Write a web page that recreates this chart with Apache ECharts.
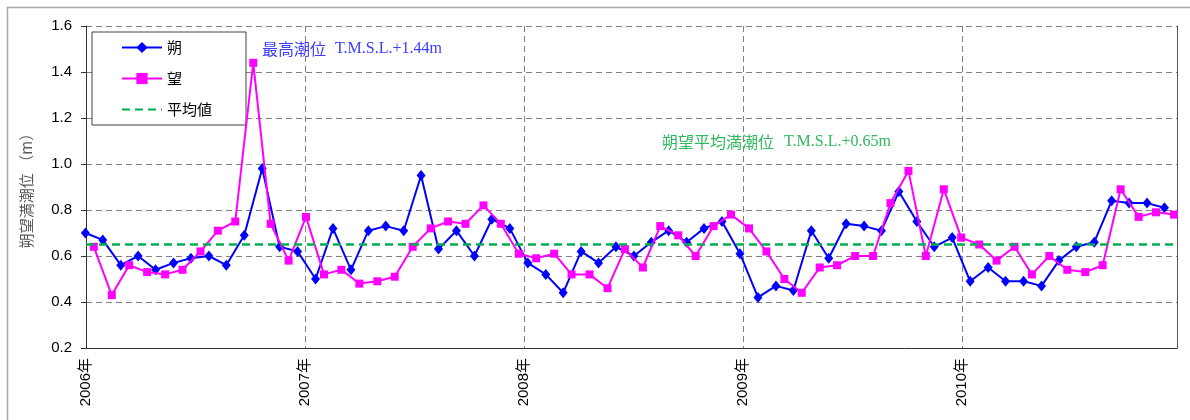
<!DOCTYPE html>
<html>
<head>
<meta charset="utf-8">
<script src="https://cdn.jsdelivr.net/npm/echarts@6/dist/echarts.min.js"></script>
<style>
html,body{margin:0;padding:0;background:#fff;}
#chart{width:1190px;height:420px;}
</style>
</head>
<body>
<div id="chart"></div>
<script>
// ---- data ----
const SAKU_DATES = ['2005-12-31','2006-01-29','2006-02-28','2006-03-29','2006-04-27','2006-05-27','2006-06-25','2006-07-25','2006-08-23','2006-09-22','2006-10-22','2006-11-20','2006-12-20',
'2007-01-19','2007-02-17','2007-03-19','2007-04-17','2007-05-16','2007-06-15','2007-07-14','2007-08-12','2007-09-11','2007-10-11','2007-11-09','2007-12-09',
'2008-01-08','2008-02-07','2008-03-07','2008-04-06','2008-05-05','2008-06-03','2008-07-03','2008-08-01','2008-08-30','2008-09-29','2008-10-28','2008-11-27','2008-12-27',
'2009-01-26','2009-02-25','2009-03-26','2009-04-25','2009-05-24','2009-06-22','2009-07-22','2009-08-20','2009-09-18','2009-10-18','2009-11-16','2009-12-16',
'2010-01-15','2010-02-14','2010-03-15','2010-04-14','2010-05-14','2010-06-12','2010-07-11','2010-08-10','2010-09-08','2010-10-07','2010-11-06','2010-12-05'];
const SAKU_VALUES = [0.70,0.67,0.56,0.60,0.54,0.57,0.59,0.60,0.56,0.69,0.98,0.64,0.62,
0.50,0.72,0.54,0.71,0.73,0.71,0.95,0.63,0.71,0.60,0.76,0.72,
0.57,0.52,0.44,0.62,0.57,0.64,0.60,0.66,0.71,0.66,0.72,0.75,0.61,
0.42,0.47,0.45,0.71,0.59,0.74,0.73,0.71,0.88,0.75,0.64,0.68,
0.49,0.55,0.49,0.49,0.47,0.58,0.64,0.66,0.84,0.83,0.83,0.81];

const BOU_DATES = ['2006-01-14','2006-02-13','2006-03-14','2006-04-13','2006-05-13','2006-06-11','2006-07-11','2006-08-09','2006-09-07','2006-10-07','2006-11-05','2006-12-05',
'2007-01-03','2007-02-02','2007-03-03','2007-04-02','2007-05-02','2007-05-31','2007-06-30','2007-07-30','2007-08-28','2007-09-26','2007-10-26','2007-11-24','2007-12-24',
'2008-01-22','2008-02-21','2008-03-21','2008-04-20','2008-05-20','2008-06-18','2008-07-18','2008-08-16','2008-09-15','2008-10-14','2008-11-13','2008-12-12',
'2009-01-11','2009-02-09','2009-03-11','2009-04-09','2009-05-09','2009-06-07','2009-07-07','2009-08-06','2009-09-04','2009-10-04','2009-11-02','2009-12-02','2009-12-31',
'2010-01-30','2010-02-28','2010-03-30','2010-04-28','2010-05-27','2010-06-26','2010-07-26','2010-08-24','2010-09-23','2010-10-23','2010-11-21','2010-12-21'];
const BOU_VALUES = [0.64,0.43,0.56,0.53,0.52,0.54,0.62,0.71,0.75,1.44,0.74,0.58,
0.77,0.52,0.54,0.48,0.49,0.51,0.64,0.72,0.75,0.74,0.82,0.74,0.61,
0.59,0.61,0.52,0.52,0.46,0.63,0.55,0.73,0.69,0.60,0.73,0.78,
0.72,0.62,0.50,0.44,0.55,0.56,0.60,0.60,0.83,0.97,0.60,0.89,0.68,
0.65,0.58,0.64,0.52,0.60,0.54,0.53,0.56,0.89,0.77,0.79,0.78];

const MEAN_VALUE = 0.65;
const X_START = '2006-01-01';
const X_END = '2010-12-26';
const YEAR_LABEL_START = 2006;
const Y_TICKS = [0.2,0.4,0.6,0.8,1.0,1.2,1.4,1.6];

const SERIES_NAMES = ['朔','望','平均値'];
const Y_NAME = '朔望満潮位 （m）';
const NOTE_MAX = ['最高潮位','T.M.S.L.+1.44m'];
const NOTE_MEAN = ['朔望平均満潮位','T.M.S.L.+0.65m'];

// ---- helpers ----
const DAY = 86400000;
const t0 = Date.parse(X_START);
const toDay = s => (Date.parse(s) - t0) / DAY;
const YEAR = 365.25;
const xMax = toDay(X_END);

const sakuData = SAKU_DATES.map((d,i)=>[toDay(d), SAKU_VALUES[i]]);
const bouData = BOU_DATES.map((d,i)=>[toDay(d), BOU_VALUES[i]]);
const meanData = [[0, MEAN_VALUE],[xMax, MEAN_VALUE]];

const chart = echarts.init(document.getElementById('chart'), null, {renderer:'canvas'});
const gridDash = {color:'#808080', width:1, type:[6,4]};
const FONT = 'Liberation Sans, Noto Sans CJK JP, sans-serif';
const CJK = 'Noto Sans CJK JP, sans-serif';
const SERIF = 'Liberation Serif, Noto Sans CJK JP, serif';

chart.setOption({
  backgroundColor:'#ffffff',
  animation:false,
  textStyle:{fontFamily:FONT},
  grid:{left:86, right:13, top:26, bottom:72, containLabel:false},
  legend:{
    orient:'vertical', left:92, top:32,
    data:[{name:SERIES_NAMES[0]},{name:SERIES_NAMES[1]},{name:SERIES_NAMES[2], itemStyle:{opacity:0}}],
    backgroundColor:'#ffffff', borderColor:'#404040', borderWidth:1,
    padding:[8,34,8,29], itemGap:16, itemWidth:40, itemHeight:14,
    textStyle:{fontFamily:CJK, fontSize:15, color:'#000'}
  },
  xAxis:{
    type:'value', min:0, max:xMax, interval:YEAR,
    axisLine:{show:true, lineStyle:{color:'#333', width:1}},
    axisTick:{show:false},
    splitLine:{show:true, lineStyle:gridDash},
    axisLabel:{
      rotate:90, margin:10, fontSize:15, color:'#000', fontFamily:FONT,
      formatter:function(v){
        const k = v/YEAR, r = Math.round(k);
        return Math.abs(k-r) < 0.01 ? (YEAR_LABEL_START + r) + '年' : '';
      }
    }
  },
  yAxis:[{
    type:'value', min:Y_TICKS[0], max:Y_TICKS[Y_TICKS.length-1], interval:0.2,
    name:Y_NAME, nameLocation:'middle', nameGap:52, nameRotate:90,
    nameTextStyle:{fontFamily:CJK, fontSize:15, color:'#595959'},
    axisLine:{show:true, lineStyle:{color:'#333', width:1}},
    axisTick:{show:true, length:5, lineStyle:{color:'#333'}},
    splitLine:{show:true, lineStyle:gridDash},
    axisLabel:{margin:14, fontSize:15, color:'#000', fontFamily:FONT,
      formatter:v=>v.toFixed(1)}
  },{
    type:'value', position:'right', min:Y_TICKS[0], max:Y_TICKS[Y_TICKS.length-1], interval:0.2,
    axisLine:{show:true, onZero:false, lineStyle:{color:'#555', width:1}},
    axisTick:{show:false}, axisLabel:{show:false}, splitLine:{show:false}
  }],
  series:[
    {name:SERIES_NAMES[0], type:'line', data:sakuData, clip:false,
     symbol:'diamond', symbolSize:[9,11], showSymbol:true,
     lineStyle:{color:'#0000ff', width:2}, itemStyle:{color:'#0000ff'}, z:3},
    {name:SERIES_NAMES[1], type:'line', data:bouData, clip:false,
     symbol:'rect', symbolSize:8,
     lineStyle:{color:'#ff00ff', width:2}, itemStyle:{color:'#ff00ff'}, z:4},
    {name:SERIES_NAMES[2], type:'line', data:meanData, symbol:'none',
     lineStyle:{color:'#00b050', width:2.5, type:[8,5]}, itemStyle:{color:'#00b050'}, z:5}
  ],
  graphic:[
    {type:'rect', silent:true, z:-10, shape:{x:7.5, y:7.5, width:1220, height:480},
     style:{fill:null, stroke:'#a6a6a6', lineWidth:1.5}},
    {type:'text', x:262, y:49, z:10, style:{
      text:'{a|'+NOTE_MAX[0]+'}{b|'+NOTE_MAX[1]+'}', verticalAlign:'middle',
      rich:{a:{fontFamily:CJK, fontSize:16, fill:'#3c3cff', padding:[0,9,0,0]},
            b:{fontFamily:SERIF, fontSize:16, fill:'#3c3cff'}}}},
    {type:'text', x:662, y:142, z:10, style:{
      text:'{a|'+NOTE_MEAN[0]+'}{b|'+NOTE_MEAN[1]+'}', verticalAlign:'middle',
      rich:{a:{fontFamily:CJK, fontSize:16, fill:'#2fb85e', padding:[0,10,0,0]},
            b:{fontFamily:SERIF, fontSize:16, fill:'#2fb85e'}}}}
  ]
});
</script>
</body>
</html>
